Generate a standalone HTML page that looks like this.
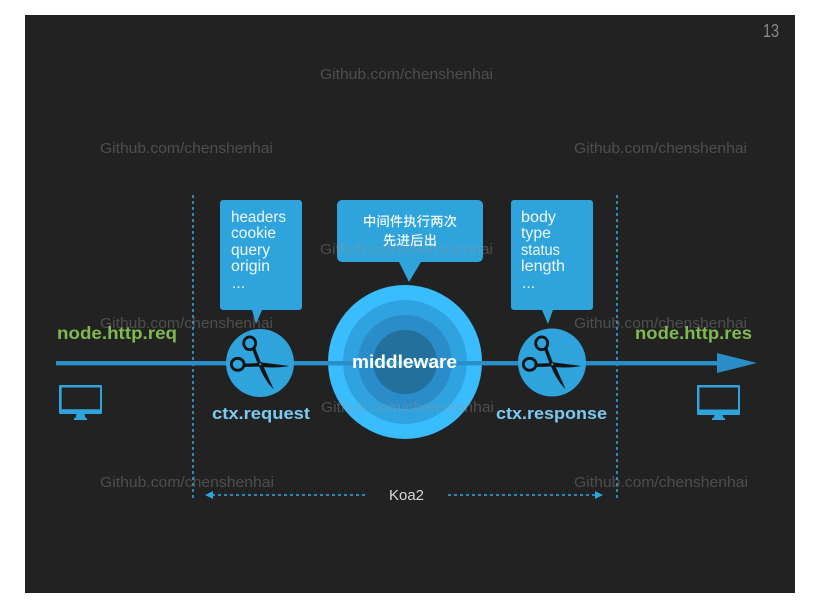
<!DOCTYPE html>
<html><head><meta charset="utf-8"><style>
html,body{margin:0;padding:0;background:#fff;width:817px;height:608px;overflow:hidden}
svg{display:block;filter:blur(.3px)}
text{font-family:"Liberation Sans","Noto Sans CJK SC",sans-serif}
.w{font-size:14.5px;fill:rgba(150,150,150,.38)}
.b{font-size:15.5px;fill:#f0f8fd}
.g{font-size:17.5px;font-weight:bold;fill:#7fb94f}
.c{font-size:17px;font-weight:bold;fill:#7ccaf0}
</style></head><body>
<svg width="817" height="608" viewBox="0 0 817 608" xmlns="http://www.w3.org/2000/svg">
<defs>
<g id="sc" stroke="#141414" stroke-linecap="round" fill="none">
<ellipse cx="-10.6" cy="-21" rx="6" ry="6.4" stroke-width="2.8"/>
<ellipse cx="-22.6" cy="0" rx="6.4" ry="6" stroke-width="2.8"/>
<path d="M-6.5 -15.5L-1 -1" stroke-width="3.4"/>
<path d="M-16 1L-1 .5" stroke-width="3.4"/>
<path d="M-1 -2.2L29 1.7C20 3.6 8 3.4 -1 2.6z" fill="#141414" stroke="none"/>
<path d="M-1.6 1L2.2 0L13.4 25C7 19 1.2 9 -1.6 1z" fill="#141414" stroke="none"/>
<circle cx="0" cy="0" r="1.1" fill="#2fa3dc" stroke="none"/>
</g>
</defs>
<rect width="817" height="608" fill="#fff"/>
<rect x="25" y="15" width="770" height="578" fill="#222"/>
<text x="763" y="37" font-size="18" fill="#8a8a8a" textLength="16" lengthAdjust="spacingAndGlyphs">13</text>

<!-- dashed frames -->
<path d="M193 195V500M617 195V500" stroke="#2a8fc2" stroke-width="1.9" stroke-dasharray="3 3" fill="none"/>

<!-- bubbles -->
<path d="M222 200H299a3 3 0 0 1 3 3V307a3 3 0 0 1-3 3H262L256 324L252 310H223a3 3 0 0 1-3-3V203a3 3 0 0 1 3-3z" fill="#2fa3dc"/>
<path d="M514 200H590a3 3 0 0 1 3 3V307a3 3 0 0 1-3 3H553L548 324L542 310H514a3 3 0 0 1-3-3V203a3 3 0 0 1 3-3z" fill="#2fa3dc"/>
<path d="M342 200H478a5 5 0 0 1 5 5V257a5 5 0 0 1-5 5H421L409 282L399 262H342a5 5 0 0 1-5-5V205a5 5 0 0 1 5-5z" fill="#2fa3dc"/>

<!-- middleware -->
<circle cx="405" cy="362" r="77" fill="#3abdff"/>
<circle cx="405" cy="362" r="62" fill="#2ea3e0"/>
<circle cx="405" cy="362" r="47" fill="#2a8cc8"/>
<circle cx="405" cy="362" r="32" fill="#24709d"/>

<!-- main line -->
<rect x="56" y="361" width="665" height="4.4" fill="#2a8fc8"/>
<path d="M717 353L757 363L717 373z" fill="#2a8fc8"/>

<!-- scissors -->
<circle cx="260" cy="363" r="34" fill="#2fa3dc"/>
<circle cx="552" cy="362.5" r="34" fill="#2fa3dc"/>
<use href="#sc" x="260.3" y="364.3"/>
<use href="#sc" x="552.3" y="364.3"/>

<!-- monitors -->
<path fill-rule="evenodd" fill="#2fa3dc" d="M60 385H101a1 1 0 0 1 1 1V413a1 1 0 0 1-1 1H84.500L85.500 418H87V420H74V418H75.500L76.500 414H60a1 1 0 0 1-1-1V386a1 1 0 0 1 1-1zM61.700 387.500V409.300H100V387.500z"/>
<path fill-rule="evenodd" fill="#2fa3dc" d="M698 385H739a1 1 0 0 1 1 1V414a1 1 0 0 1-1 1H722.500L723.500 418H725V420H712V418H713.500L714.500 415H698a1 1 0 0 1-1-1V386a1 1 0 0 1 1-1zM699.500 387.500V409.500H738V387.500z"/>

<!-- bubble text -->
<g class="b">
<text class="b" x="231" y="222" textLength="55" lengthAdjust="spacingAndGlyphs">headers</text>
<text class="b" x="231" y="238" textLength="45" lengthAdjust="spacingAndGlyphs">cookie</text>
<text class="b" x="231" y="255" textLength="39" lengthAdjust="spacingAndGlyphs">query</text>
<text class="b" x="231" y="271" textLength="39" lengthAdjust="spacingAndGlyphs">origin</text>
<text class="b" x="232" y="288" textLength="13">...</text>
<text class="b" x="521" y="222" textLength="35" lengthAdjust="spacingAndGlyphs">body</text>
<text class="b" x="521" y="238" textLength="30" lengthAdjust="spacingAndGlyphs">type</text>
<text class="b" x="521" y="255" textLength="39" lengthAdjust="spacingAndGlyphs">status</text>
<text class="b" x="521" y="271" textLength="44" lengthAdjust="spacingAndGlyphs">length</text>
<text class="b" x="522" y="288" textLength="13">...</text>
</g>
<text x="363" y="226" font-size="13.3" font-weight="500" fill="#f4fafd" textLength="94">中间件执行两次</text>
<text x="383" y="245" font-size="13.3" font-weight="500" fill="#f4fafd" textLength="54">先进后出</text>

<!-- labels -->
<text class="g" x="57" y="339" textLength="120" lengthAdjust="spacingAndGlyphs">node.http.req</text>
<text class="g" x="635" y="339" textLength="117" lengthAdjust="spacingAndGlyphs">node.http.res</text>
<text class="c" x="212" y="419" textLength="98" lengthAdjust="spacingAndGlyphs">ctx.request</text>
<text class="c" x="496" y="419" textLength="111" lengthAdjust="spacingAndGlyphs">ctx.response</text>
<text x="352" y="368" font-size="18" font-weight="bold" fill="#fff" textLength="105" lengthAdjust="spacingAndGlyphs">middleware</text>

<!-- Koa2 -->
<path d="M212 495H368M448 495H597" stroke="#2a97d0" stroke-width="1.8" stroke-dasharray="3 3" fill="none"/>
<path d="M205 495L213 491V499z" fill="#2fa3dc"/>
<path d="M603 495L595 491V499z" fill="#2fa3dc"/>
<text x="389" y="500" font-size="14.5" fill="#d8d8d8" textLength="35" lengthAdjust="spacingAndGlyphs">Koa2</text>

<!-- watermarks -->
<text class="w" x="320" y="79" textLength="173" lengthAdjust="spacingAndGlyphs">Github.com/chenshenhai</text>
<text class="w" x="100" y="153" textLength="173" lengthAdjust="spacingAndGlyphs">Github.com/chenshenhai</text>
<text class="w" x="574" y="153" textLength="173" lengthAdjust="spacingAndGlyphs">Github.com/chenshenhai</text>
<text class="w" x="320" y="254" textLength="173" lengthAdjust="spacingAndGlyphs">Github.com/chenshenhai</text>
<text class="w" x="100" y="328" textLength="173" lengthAdjust="spacingAndGlyphs">Github.com/chenshenhai</text>
<text class="w" x="574" y="328" textLength="173" lengthAdjust="spacingAndGlyphs">Github.com/chenshenhai</text>
<text class="w" x="321" y="412" textLength="173" lengthAdjust="spacingAndGlyphs">Github.com/chenshenhai</text>
<text class="w" x="100" y="487" textLength="174" lengthAdjust="spacingAndGlyphs">Github.com/chenshenhai</text>
<text class="w" x="574" y="487" textLength="174" lengthAdjust="spacingAndGlyphs">Github.com/chenshenhai</text>
</svg>
</body></html>
